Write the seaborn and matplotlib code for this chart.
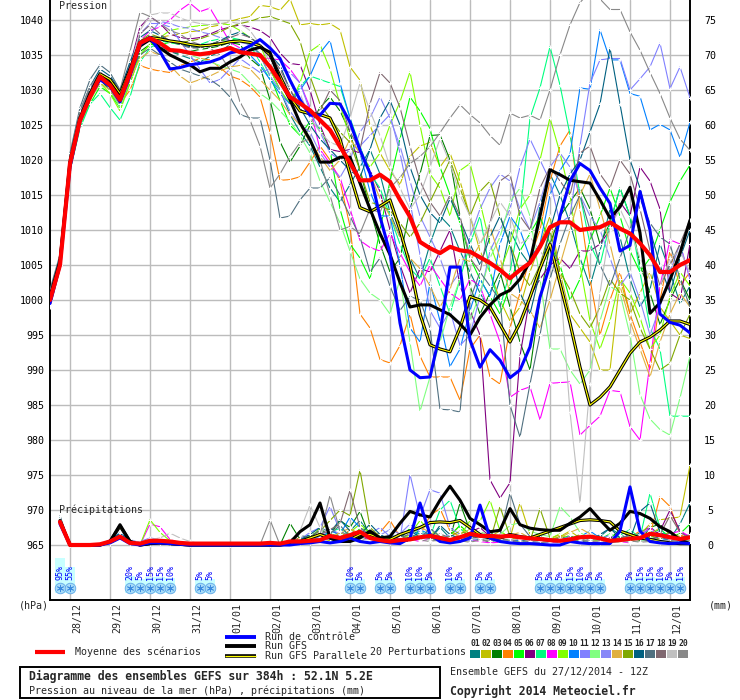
import numpy as np
import pandas as pd
import matplotlib
matplotlib.use("Agg")
import matplotlib.pyplot as plt
import matplotlib.transforms as mtransforms
from matplotlib.patches import Rectangle
import seaborn as sns

# ---------------- data ----------------
hours = list(range(0, 385, 6))          # 65 steps, 27/12 12Z -> +384h
precip_hours = hours[1:]
day_ticks = list(range(12, 373, 24))
day_labels = ["28/12", "29/12", "30/12", "31/12", "01/01", "02/01", "03/01", "04/01",
              "05/01", "06/01", "07/01", "08/01", "09/01", "10/01", "11/01", "12/01"]

mean_p = [1000, 1005, 1019.5, 1025.7, 1029, 1031.9, 1030.7, 1028.6, 1032.4, 1036.7, 1037.4, 1036.7, 1035.7,
          1035.6, 1035.3, 1035.1, 1035.3, 1035.6, 1036, 1035.4, 1035.2, 1035, 1033.3, 1031.2, 1029, 1028.1,
          1027.1, 1025.7, 1024.3, 1021.9, 1019.6, 1017.1, 1017.1, 1017.9, 1016.9, 1014.3, 1011.9, 1008.3, 1007.4,
          1006.7, 1007.6, 1007.1, 1006.9, 1006.1, 1005.3, 1004.3, 1003.1, 1004.3, 1005.3, 1007.6, 1010.4, 1011.1,
          1011.1, 1010, 1010.2, 1010.4, 1011.1, 1010.2, 1009.5, 1008.1, 1006.4, 1004, 1004, 1005, 1005.7]
control_p = [999.5, 1005, 1019, 1025.5, 1029, 1031.5, 1030.5, 1028.3, 1032, 1036.5, 1037.5, 1035.5, 1033,
             1033.2, 1033.6, 1033.8, 1034, 1034.5, 1035.3, 1035.6, 1036.3, 1037.2, 1036, 1034.5, 1031.4, 1028.6,
             1026.4, 1026.4, 1028.1, 1028, 1025.4, 1021.4, 1018.1, 1011.9, 1006.7, 996.7, 990, 988.9, 989,
             995.3, 1004.7, 1004.7, 994.3, 990.4, 992.9, 991.4, 988.9, 990, 993.3, 1000.4, 1005, 1012,
             1017, 1019.5, 1018.5, 1016, 1013.8, 1007, 1007.8, 1015.5, 1010, 998, 996.8, 996.4, 995.3]
gfs_p = [1000, 1005.5, 1019.5, 1025.8, 1029.2, 1032, 1031, 1029, 1032.6, 1036.3, 1037.2, 1036, 1035,
         1034.3, 1033.6, 1032.6, 1033.1, 1033.1, 1034, 1034.7, 1035.7, 1036.1, 1035.4, 1031.4, 1028.6, 1025.3,
         1022.9, 1019.7, 1019.7, 1020.4, 1020.4, 1016.7, 1013, 1009.5, 1006.5, 1002.5, 999, 999.3, 999.3,
         998.6, 997.9, 996.6, 995, 997.5, 999.3, 1000.7, 1001.4, 1003, 1005.5, 1012, 1018.6, 1017.9,
         1017.1, 1016.9, 1016.7, 1014.3, 1011.7, 1013.3, 1016.1, 1009.6, 998.1, 999.6, 1002.9, 1006.7, 1011.4]
gfs_par_p = [1000.5, 1005.5, 1019.8, 1026, 1029.5, 1032.3, 1031.5, 1029.5, 1033, 1036.8, 1037.5, 1037.3, 1037,
             1036.8, 1036.5, 1036.3, 1036.4, 1036.6, 1036.9, 1037, 1036.8, 1036.3, 1035, 1032, 1029, 1027,
             1026.6, 1026.5, 1026, 1023, 1018, 1013.2, 1012.6, 1013.4, 1014.3, 1010, 1005, 998, 993.6,
             993, 992.6, 996, 1000.5, 1000, 999, 996.5, 994, 996.7, 1000.4, 1004.5, 1008, 1002.4,
             996.7, 990.4, 985, 986.1, 987.6, 990, 992.4, 994, 994.7, 995.7, 997, 997, 996.5]

P01 = [1000.5, 1005.5, 1019.5, 1026, 1029.5, 1032, 1030.5, 1028, 1032.5, 1036.5, 1037.8, 1036.5, 1035.5,
       1035, 1034.5, 1034, 1034.8, 1035.5, 1036.5, 1037, 1036.5, 1035.2, 1033, 1030, 1026.5, 1024,
       1022, 1019, 1016, 1014, 1016.5, 1019, 1021.5, 1018, 1012.5, 1009, 1006, 1003, 1008,
       1012, 1010.5, 1007, 1004, 1001, 998.5, 1003, 1010, 1007, 1005, 1013.5, 1018, 1015,
       1011, 1006, 1002, 1007, 1013, 1009, 1003, 999, 1001.5, 1008, 1004, 999.5, 1002]
P02 = [1000, 1005, 1019, 1025.5, 1029, 1031.5, 1030.5, 1028.5, 1032, 1036, 1037.5, 1037.5, 1037.8,
       1038, 1038.3, 1038.5, 1039, 1039.3, 1039.8, 1040.2, 1040.5, 1042.1, 1041.9, 1041.4, 1043, 1039.3,
       1039.5, 1039.3, 1039.5, 1038.6, 1033.3, 1031.4, 1025, 1021, 1018.5, 1016.5, 1020.5, 1022, 1022.5,
       1019, 1021, 1017, 1012, 1007, 1004, 1000, 997, 999, 1004, 1008, 1012, 1004,
       998, 996, 994, 990, 990, 1003, 998, 1001, 1004, 999, 997, 995, 994.5]
P03 = [999.5, 1004.5, 1018.5, 1025, 1028.5, 1031.5, 1030, 1027.5, 1031.5, 1035.5, 1036.5, 1036, 1035.5,
       1035.2, 1035.5, 1035.8, 1036, 1036.3, 1036.8, 1036.5, 1034.5, 1033.3, 1028.6, 1022.6, 1019.7, 1022,
       1025, 1027.5, 1029, 1027, 1024, 1018.5, 1013, 1008, 1004, 1006, 1013, 1018, 1023.5,
       1023.6, 1020, 1012, 1002, 998, 1001, 1004, 999, 994, 990, 1000, 1008, 1012,
       1014, 1016, 1013, 1008, 1011, 1016, 1012, 1005, 1001, 996.5, 1000, 1003, 1000]
P04 = [999, 1004.5, 1018.5, 1025.5, 1029, 1031.5, 1030.5, 1028, 1030, 1033.5, 1033, 1032.7, 1032.5,
       1033.5, 1034, 1034.5, 1034.3, 1033.2, 1032, 1031.5, 1030.5, 1029, 1024, 1017.1, 1017.2, 1017.6,
       1019.7, 1022, 1020, 1017, 1010.5, 998, 996, 991.5, 991, 993.5, 998, 992, 989,
       989, 989, 985.7, 993, 995, 989, 988, 996, 1001, 1006, 1010, 1017, 1022,
       1024.3, 1013, 1003, 995, 1000, 1004, 998, 994, 990, 1000, 1007, 1002, 1004]
P05 = [1000, 1005, 1019, 1025, 1028, 1030.5, 1029.5, 1027.5, 1031, 1035, 1036.5, 1036.5, 1036.8,
       1036.5, 1036.2, 1036, 1036.5, 1037, 1037.3, 1037, 1036.5, 1035, 1032, 1028.5, 1025, 1023.5,
       1025.5, 1024.5, 1021.5, 1013, 1008, 1006, 1003, 1010, 1017, 1023, 1029, 1027, 1024.5,
       1019, 1015, 1011, 1006, 1003, 1000.5, 998, 1002, 1007, 1009.5, 1012, 1008, 1005,
       1000, 1003, 1008.5, 1012, 1016, 1012, 1007, 1004, 1006, 1010, 1014, 1017, 1019.3]
P06 = [1000.5, 1005.5, 1020, 1026.5, 1030, 1032.5, 1031.5, 1029, 1033.5, 1039, 1040.5, 1039.5, 1038,
       1037.5, 1037.3, 1037.5, 1038, 1038.6, 1039, 1039.3, 1039, 1038.5, 1037.5, 1035.3, 1033.8, 1033.6,
       1030, 1025, 1021.5, 1021.2, 1021.5, 1021, 1018.5, 1015.5, 1010, 1005, 1001, 1004.5, 1004,
       1007, 1010, 1002, 998.5, 995, 974.3, 971.7, 973.9, 992, 1000.5, 1003, 1005, 1006,
       1004.5, 1007, 1007, 1008, 1010, 1014, 1012, 1019, 1017, 1013, 1001, 1000, 1008]
P07 = [999.5, 1004.5, 1018.5, 1024.5, 1028, 1029.5, 1027.5, 1025.7, 1029, 1034, 1036, 1037, 1036.8,
       1036.5, 1036.3, 1036.5, 1037, 1037.3, 1037.5, 1037.2, 1036.5, 1034, 1031.5, 1030, 1028, 1030.5,
       1032, 1031.5, 1031, 1030.5, 1026, 1022, 1018, 1016, 1012, 1008, 1004.5, 1003, 1006,
       1002, 998, 1003, 1008, 1012, 1004, 999, 1004, 1012, 1026, 1030.3, 1036.2, 1030.7,
       1023.6, 1015, 1008, 1005, 1011, 1016, 1012, 1004, 996, 993, 983.4, 983.4, 983.4]
P08 = [1000, 1005, 1019.5, 1026, 1029.5, 1032, 1031, 1029, 1033, 1037, 1038.5, 1039, 1040,
       1041.4, 1042.4, 1041.2, 1041.7, 1039.3, 1036.8, 1036, 1035.5, 1034.6, 1034.5, 1034.3, 1033, 1031,
       1027.5, 1021.5, 1019.5, 1017.5, 1013, 1008.5, 1007.5, 1007, 1009.5, 1006.7, 1004, 1002, 1005,
       1003, 1001, 1000, 1003, 1002, 998, 994, 986.1, 987.1, 987.6, 982.9, 988.1, 988.2,
       988.3, 980.7, 982.1, 983.4, 987.1, 986.9, 981.9, 980, 991, 1002, 1008.6, 1008, 1003]
P09 = [1000, 1005, 1019, 1025.5, 1029, 1031, 1029.5, 1027, 1031, 1035, 1036.5, 1037.5, 1038.5,
       1038.8, 1039, 1039.2, 1039.3, 1039.5, 1039.3, 1038.5, 1037.5, 1036.5, 1033, 1030, 1028, 1031,
       1035.5, 1036.5, 1033, 1028, 1023, 1021, 1019, 1021, 1025, 1028.3, 1032.6, 1025, 1018,
       1016, 1012, 1018.5, 1019.5, 1014, 1008, 1004, 1008, 1013, 1015, 1020, 1026, 1021,
       1015, 1005, 997, 993, 997, 1003, 1001, 997.5, 993, 995, 1000.5, 1004, 1002]
P10 = [1000, 1005, 1019.5, 1026, 1029.5, 1032, 1031, 1028.5, 1032.5, 1036.5, 1037.5, 1036.3, 1035.5,
       1035.3, 1035.2, 1035, 1035.4, 1035.8, 1036, 1035.8, 1035, 1033.5, 1031.5, 1029.5, 1028, 1030,
       1032, 1035.3, 1037.1, 1031, 1026, 1021, 1015.5, 1012, 1012, 1005, 996, 994, 1002.5,
       997, 990.5, 993, 998.5, 1003, 1000.5, 1008, 1012, 1010, 1006, 1008, 1015, 1018.5,
       1020.8, 1030.3, 1030.1, 1038.6, 1034.3, 1034.3, 1029.5, 1029.1, 1024.3, 1025.1, 1024.3, 1020.4, 1025.4]
P11 = [1000.5, 1005.5, 1020, 1026.5, 1030, 1032.5, 1031.5, 1029.5, 1033.5, 1038, 1039.5, 1039.5, 1039,
       1037, 1035, 1033, 1031, 1031.5, 1033, 1034.5, 1033.5, 1032.5, 1033, 1033, 1032.5, 1031,
       1027, 1024, 1021, 1020, 1021.5, 1022, 1023.5, 1025, 1026.5, 1021, 1014, 1006.5, 998.5,
       996, 998.5, 993.5, 995, 1000.5, 1007, 1010, 1013, 1019, 1023, 1020, 1017, 1011,
       1012, 1022, 1031, 1034.3, 1034.5, 1034.5, 1030, 1031.6, 1033.3, 1036.7, 1030.2, 1033.3, 1028.9]
P12 = [999.5, 1004.5, 1018.5, 1025, 1028.5, 1031, 1030, 1027.5, 1031.5, 1036, 1037.5, 1037, 1036,
       1035.5, 1035, 1034.5, 1034, 1033.5, 1033, 1032.5, 1031, 1029.5, 1028.5, 1027, 1025.5, 1023.5,
       1021, 1017, 1014, 1011, 1007, 1003, 1001, 1000, 998, 1003, 994, 984.1, 989,
       994, 999, 1003, 997, 1001, 1006, 1009, 1014, 1016, 1012, 1003, 993, 993,
       990, 988, 990, 997, 1002, 1001, 995, 986.5, 983, 981.5, 980.7, 986, 992]
P13 = [1000, 1005, 1019, 1025.5, 1029, 1031.5, 1030.5, 1028, 1032, 1036, 1038, 1039.8, 1039.5,
       1039, 1038.8, 1038.3, 1038, 1037.5, 1037, 1036.8, 1036.5, 1035, 1032, 1030, 1027, 1025,
       1024, 1021, 1019, 1017.5, 1020, 1024, 1026, 1029, 1026, 1022, 1017, 1012, 1009,
       1006, 1002, 1004, 1009, 1013, 1016, 1018, 1017, 1013, 1010, 1014, 1019, 1021,
       1019, 1015, 1012, 1010, 1006, 1002, 1004, 1000, 995, 999, 1004, 1008, 1003]
P14 = [999.5, 1004.5, 1018.5, 1025, 1028.5, 1031, 1030, 1028, 1031.5, 1034.5, 1035.5, 1035, 1033.5,
       1032, 1031, 1031.5, 1032, 1032.7, 1033.3, 1033.5, 1033, 1031.5, 1030, 1028.5, 1026.5, 1025,
       1022.5, 1020.5, 1018.5, 1020, 1023, 1021, 1018, 1014.5, 1012, 1009, 1006, 1004.5, 1002,
       999, 1001.5, 1006, 1005.5, 1008, 1010.5, 1006, 1001, 1000, 998.5, 996, 1000, 1005,
       1010, 1015, 1018, 1013, 1008, 1002, 997, 993, 989, 994, 998, 1001, 999]
P15 = [1000.5, 1005.5, 1020, 1026, 1029.5, 1032, 1031, 1029, 1033, 1037, 1038, 1037.5, 1037,
       1036.8, 1037, 1037.3, 1037.8, 1038.3, 1039, 1039.5, 1039.8, 1040.3, 1040.5, 1040, 1039.5, 1037,
       1032, 1028, 1026, 1024, 1022.5, 1018.5, 1014, 1013.5, 1012.8, 1011, 1009, 1011, 1014,
       1017, 1020, 1016, 1012, 1015.5, 1017, 1012, 1008, 1004, 1002, 1005, 1010, 1004,
       1001.5, 998, 996, 999, 1003, 1001, 1000, 996, 993, 990, 991, 995, 998]
P16 = [1001, 1006, 1020.5, 1027, 1030.5, 1033, 1032, 1030, 1034, 1037.5, 1038.5, 1037.8, 1037,
       1036.5, 1036.2, 1036, 1036.5, 1037, 1037.8, 1038.3, 1037.5, 1036.5, 1035, 1033.5, 1030, 1027.5,
       1025, 1023, 1021.5, 1020, 1018.5, 1017.5, 1021.5, 1026, 1028.5, 1025, 1019, 1015, 1012.5,
       1011, 1014.5, 1011.5, 1008, 1005, 1009, 1012, 1008, 1001, 998, 1004, 1010, 1015,
       1018, 1020, 1024, 1028, 1036, 1028, 1020, 1016, 1010, 1005, 1001, 1006, 1010]
P17 = [1001.5, 1006.5, 1021, 1027.5, 1031.5, 1033.6, 1032.5, 1030, 1032.5, 1035, 1036, 1035, 1034,
       1033, 1032.5, 1032, 1031.5, 1030.5, 1029, 1026.5, 1026, 1026, 1020, 1011.7, 1012, 1014.3,
       1016, 1016, 1017.5, 1015, 1012, 1009, 1004, 1006, 1002, 998.5, 1000.5, 1000, 996,
       984.4, 984.3, 984, 1000, 1004, 1002, 1000, 985, 980.4, 988, 995, 1003, 1008,
       1012, 1015, 1010, 1005, 1002, 1006, 1010, 1014.5, 1011, 1009, 1008, 1003, 999]
P18 = [1000.5, 1005.5, 1020, 1026.5, 1030, 1032, 1031, 1029.5, 1033, 1038, 1039.3, 1038, 1037,
       1036.5, 1036, 1036, 1036.5, 1037, 1037.5, 1038, 1037.5, 1036.5, 1035, 1033, 1030, 1028,
       1026.5, 1027, 1030, 1028.5, 1024, 1021.5, 1028, 1032.5, 1031, 1027.5, 1022, 1017, 1014,
       1012, 1015, 1012, 1006, 1004, 1011, 1017, 1018, 1012, 1010, 1016, 1019, 1017,
       1015, 1021, 1022, 1018, 1016, 1020, 1018, 1013, 1007, 1002, 1005, 1008, 1011.5]
P19 = [1000, 1005, 1019.5, 1026, 1029.5, 1032, 1031, 1029, 1033, 1038.5, 1040.7, 1041, 1041,
       1040.3, 1039.8, 1039.5, 1039.3, 1039.5, 1039.7, 1039.5, 1038.5, 1036.5, 1034, 1031.5, 1030.5, 1029.5,
       1026, 1024, 1022.5, 1022, 1026, 1031, 1027, 1023.5, 1019, 1016, 1013, 1015, 1019,
       1023, 1019.5, 1015, 1012, 1008, 1011, 1014, 1012, 1008, 1009, 1007, 1005, 1003,
       984, 971, 988, 1001, 1010.5, 1013, 1010, 1006, 1003, 1002, 1006, 1007, 1004]
P20 = [1001, 1006, 1020.5, 1027, 1030.5, 1032.5, 1031.5, 1030, 1035.5, 1041.1, 1040.5, 1039.5, 1038.5,
       1038, 1037, 1036.5, 1036, 1035, 1032.9, 1028.3, 1025.7, 1022, 1016, 1018, 1020.5, 1022.5,
       1023, 1020, 1015, 1010, 1010.5, 1009.5, 1013, 1012.5, 1016, 1017.5, 1019.5, 1020.5, 1021.9,
       1023.9, 1026, 1027.9, 1026.5, 1025.3, 1023.5, 1022.1, 1026.7, 1026, 1026.4, 1025.7, 1030, 1035,
       1039.3, 1042.5, 1044, 1043, 1041.5, 1041.5, 1038.3, 1035.7, 1032.5, 1029.5, 1026, 1023, 1021.4]

mean_r = [3.3, 0, 0, 0, 0.1, 0.5, 1.2, 0.3, 0.2, 0.6, 0.6, 0.5, 0.3, 0.2, 0.2, 0.2,
          0.2, 0.2, 0.2, 0.2, 0.2, 0.3, 0.2, 0.5, 0.5, 0.6, 0.7, 1.3, 1.0, 1.4, 1.9, 1.0,
          0.7, 0.5, 0.7, 0.8, 1.1, 1.3, 1.0, 0.7, 1.1, 1.6, 1.3, 1.3, 1.2, 1.3, 1.1, 0.95,
          0.85, 0.7, 0.6, 0.8, 1.1, 1.2, 0.95, 0.6, 0.7, 0.9, 1.0, 1.6, 1.4, 1.1, 0.85, 1.1]
control_r = [3, 0, 0, 0, 0, 0.3, 1, 0.2, 0, 0.3, 0.3, 0.2, 0.1, 0, 0, 0,
             0, 0, 0, 0, 0, 0, 0, 0, 0.2, 0.3, 0.5, 0.3, 0.5, 1, 0.5, 0.3,
             0.5, 0.3, 0.2, 1, 6, 1.5, 0.5, 0.3, 0.5, 1, 5.7, 1, 0.5, 0.3, 0.2, 0.2,
             0.1, 0, 0, 0.5, 0.3, 0.2, 0.2, 0.2, 2, 8.3, 2, 0.5, 0.3, 0.2, 0.3, 0.2]
gfs_r = [3.5, 0, 0, 0, 0, 0.5, 2.9, 0.5, 0, 0.2, 0.3, 0.2, 0.1, 0, 0, 0,
         0, 0, 0, 0, 0, 0, 0, 0.3, 1.9, 2.9, 6, 1, 0.5, 0.5, 1, 2,
         1, 1.2, 3.1, 4.8, 4.3, 4, 6.4, 8.4, 6.4, 3.8, 2.9, 1.9, 2.1, 5.2, 2.9, 2.4,
         2.2, 2.1, 2.1, 3.1, 4, 5.2, 3.6, 2.1, 3.1, 4.8, 4.5, 3.8, 2.6, 1.9, 0.7, 0.2]
gfs_par_r = [3.3, 0, 0, 0, 0, 0.5, 2.7, 0.5, 0, 0.2, 0.3, 0.2, 0.1, 0, 0, 0,
             0, 0, 0, 0, 0, 0, 0, 0.2, 0.5, 1, 1.5, 1, 0.5, 0.8, 1.5, 1.5,
             1, 0.8, 1.5, 2, 2.5, 3.2, 3.3, 3.2, 3.5, 2.5, 1.5, 1, 1, 1.5, 1.2, 1,
             1.5, 2, 2.5, 3, 3.5, 3.6, 3.5, 3.3, 2, 1.5, 1, 0.8, 0.5, 0.3, 0.2, 0.2]

R01 = [4.0, 0, 0, 0, 0, 0.4, 1.8, 0.4, 0, 0.2, 0.3, 0.2, 0.1, 0, 0, 0,
       0, 0, 0, 0, 0, 0, 0.2, 0.5, 1.0, 0.8, 1.5, 2.5, 1.2, 2.0, 3.5, 1.5,
       0.8, 0.5, 1.2, 2.2, 1.5, 0.8, 2.5, 1.0, 0.6, 1.8, 0.9, 0.4, 0.8, 1.5, 0.7, 0.4,
       0.3, 0.6, 1.2, 0.8, 0.4, 0.6, 1.2, 2.4, 1.5, 0.8, 1.8, 2.6, 1.4, 0.9, 3.0, 6.0]
R02 = [3.0, 0, 0, 0, 0, 0.2, 1.2, 0.2, 0, 0.4, 0.6, 0.4, 0.2, 0, 0, 0,
       0, 0, 0, 0, 0, 0, 0, 0.3, 0.5, 0.3, 1.0, 0.6, 1.8, 1.0, 0.5, 1.2,
       0.6, 1.0, 0.4, 0.6, 1.2, 1.6, 0.5, 1.2, 2.8, 1.0, 0.6, 1.2, 2.0, 1.0, 6.0, 1.5,
       0.5, 0.8, 1.2, 2.0, 1.0, 0.5, 0.3, 1.0, 0.6, 1.2, 1.5, 3.0, 3.6, 3.8, 4.0, 11.4]
R03 = [3.8, 0, 0, 0, 0, 0.3, 1.6, 0.3, 0, 0.3, 0.4, 0.3, 0.1, 0, 0, 0,
       0, 0, 0, 0, 0, 0, 0, 3.1, 0.8, 1.2, 2.2, 1.5, 3.5, 2.5, 4.8, 1.0,
       0.5, 0.7, 1.5, 0.9, 1.2, 1.8, 0.8, 1.0, 6.0, 2.0, 0.8, 0.5, 1.0, 0.6, 0.5, 0.8,
       1.2, 0.6, 0.4, 0.8, 1.5, 0.7, 0.4, 0.9, 2.2, 1.0, 0.6, 2.5, 3.0, 1.5, 0.5, 0.6]
R04 = [3.2, 0, 0, 0, 0, 0.4, 1.3, 0.3, 0, 0.2, 0.3, 0.2, 0.1, 0, 0, 0,
       0, 0, 0, 0.3, 0, 0, 0, 0.5, 1.0, 0.4, 1.8, 1.2, 0.8, 2.2, 1.5, 0.9,
       1.8, 3.5, 1.2, 0.8, 1.4, 4.2, 5.2, 2.0, 1.2, 0.6, 1.0, 1.6, 0.8, 0.5, 1.2, 0.7,
       0.4, 0.9, 1.5, 0.6, 0.3, 0.8, 1.2, 0.5, 0.7, 1.1, 2.0, 1.4, 6.9, 5.5, 1.5, 0.8]
R05 = [3.6, 0, 0, 0, 0, 0.2, 1.0, 0.2, 0, 0.2, 0.5, 0.4, 0.2, 0.1, 0, 0,
       0, 0, 0, 0, 0, 0.3, 0, 0.2, 0.6, 1.0, 0.8, 1.6, 1.2, 0.7, 2.4, 2.0,
       0.7, 0.4, 1.0, 2.4, 1.8, 0.6, 0.9, 1.4, 2.8, 1.5, 0.6, 1.2, 0.9, 0.4, 0.6, 0.5,
       0.3, 0.5, 0.8, 1.4, 0.6, 0.4, 0.8, 1.6, 0.9, 0.5, 1.0, 1.8, 2.2, 1.2, 1.6, 3.0]
R06 = [3.3, 0, 0, 0, 0, 0.3, 1.4, 0.3, 0, 0.2, 0.3, 0.3, 0.2, 0, 0, 0,
       0, 0, 0, 0, 0, 0, 0, 0.3, 0.4, 0.6, 1.0, 0.8, 1.4, 0.8, 1.2, 0.8,
       0.5, 0.8, 0.4, 0.6, 0.9, 1.4, 0.8, 0.5, 1.0, 1.8, 2.5, 1.2, 0.8, 0.6, 1.0, 0.8,
       0.6, 0.4, 0.8, 1.2, 0.6, 0.3, 0.5, 1.0, 0.8, 1.5, 0.9, 1.2, 2.0, 5.0, 2.0, 1.0]
R07 = [3.4, 0, 0, 0, 0, 0.4, 1.5, 0.4, 0, 0.3, 0.6, 0.6, 0.3, 0.1, 0, 0,
       0, 0, 0, 0, 0, 0, 0, 0.2, 0.6, 1.2, 0.9, 1.8, 2.4, 1.4, 0.8, 1.6,
       0.9, 0.6, 1.4, 0.8, 2.0, 1.2, 5.0, 6.4, 2.4, 1.0, 0.7, 1.2, 0.6, 0.8, 0.5, 1.0,
       0.8, 0.5, 0.4, 1.0, 0.6, 1.2, 0.8, 0.5, 1.4, 2.2, 1.0, 7.4, 2.4, 0.8, 0.5, 1.4]
R08 = [3.0, 0, 0, 0, 0, 0.3, 1.2, 0.3, 0, 3.0, 2.6, 0.8, 0.3, 0.1, 0, 0,
       0, 0, 0, 0, 0, 0, 0, 0.2, 0.4, 0.3, 0.8, 1.0, 0.6, 0.9, 1.5, 0.7,
       0.5, 0.3, 0.6, 0.8, 0.5, 0.9, 1.2, 0.6, 0.4, 0.8, 0.5, 0.3, 0.4, 0.6, 0.9, 0.5,
       0.4, 0.3, 0.5, 0.8, 1.4, 0.6, 0.4, 0.7, 0.5, 0.3, 1.2, 2.6, 1.0, 1.6, 2.0, 1.2]
R09 = [3.5, 0, 0, 0, 0, 0.3, 1.6, 0.4, 0, 3.6, 1.8, 0.6, 0.2, 0.1, 0, 0,
       0, 0, 0, 0, 0, 0, 0, 0.3, 0.5, 0.8, 2.5, 1.2, 0.6, 1.8, 3.0, 1.6,
       1.2, 0.8, 0.6, 1.5, 3.5, 2.0, 1.4, 0.8, 1.2, 3.5, 3.4, 6.4, 2.0, 1.0, 0.8, 0.6,
       0.5, 0.9, 1.6, 0.8, 0.6, 0.5, 1.0, 0.7, 0.4, 0.8, 1.5, 1.0, 0.6, 0.8, 1.2, 0.9]
R10 = [3.7, 0, 0, 0, 0, 0.5, 1.8, 0.5, 0, 0.2, 0.4, 0.3, 0.2, 0.1, 0, 0,
       0, 0, 0, 0, 0, 0, 0, 0.5, 0.8, 1.5, 1.0, 2.0, 1.5, 4.0, 2.5, 1.2,
       0.8, 1.4, 1.0, 0.6, 2.2, 1.5, 1.0, 0.8, 1.4, 0.7, 0.9, 1.8, 0.9, 0.5, 0.7, 0.4,
       0.3, 0.5, 0.8, 0.6, 1.2, 2.0, 1.0, 0.6, 0.8, 1.5, 0.8, 0.5, 0.6, 0.9, 0.5, 0.7]
R11 = [3.3, 0, 0, 0, 0, 0.8, 1.4, 0.5, 0.5, 1.0, 0.8, 0.5, 0.4, 0.2, 0.1, 0,
       0, 0, 0, 0, 0, 0, 0, 0.4, 0.8, 1.8, 2.5, 5.5, 2.0, 1.2, 1.0, 1.6,
       2.5, 1.2, 0.8, 10.1, 4.0, 7.9, 7.4, 2.5, 1.5, 0.8, 1.2, 0.6, 0.9, 1.4, 0.7, 0.5,
       0.4, 0.6, 0.8, 1.2, 0.7, 0.5, 0.9, 1.4, 0.8, 0.6, 1.6, 2.2, 1.0, 0.8, 1.2, 0.6]
R12 = [3.0, 0, 0, 0, 0, 0.2, 1.0, 0.2, 0, 0.6, 0.8, 0.4, 0.2, 0, 0, 0,
       0, 0, 0, 0, 0, 0, 0, 0.2, 0.3, 0.6, 0.9, 1.4, 0.8, 1.0, 1.8, 0.9,
       0.5, 0.8, 1.2, 0.6, 0.9, 1.5, 0.8, 0.6, 1.0, 0.7, 2.0, 1.2, 1.5, 2.8, 3.2, 2.0,
       1.5, 1.2, 5.5, 4.0, 1.8, 0.9, 0.6, 0.8, 1.2, 0.7, 0.5, 0.9, 1.4, 0.8, 0.6, 0.5]
R13 = [3.4, 0, 0, 0, 0, 0.6, 1.3, 0.8, 0.3, 0.5, 0.6, 0.4, 0.3, 0.2, 0, 0,
       0, 0, 0, 0, 0, 0, 0, 0.3, 0.5, 0.8, 1.2, 2.4, 1.5, 0.9, 1.4, 2.0,
       1.4, 2.2, 1.6, 3.0, 1.8, 1.2, 0.9, 1.5, 0.8, 0.6, 1.0, 0.8, 0.5, 0.7, 0.9, 0.6,
       0.5, 0.8, 0.6, 0.9, 1.4, 1.0, 0.6, 0.5, 0.8, 1.2, 0.9, 0.7, 1.1, 0.8, 0.6, 0.5]
R14 = [3.1, 0, 0, 0, 0, 0.3, 1.1, 0.2, 0, 0.3, 0.4, 0.3, 0.1, 0, 0, 0,
       0, 0, 0, 0, 0, 0, 0, 0.4, 0.6, 0.9, 1.4, 1.0, 1.8, 2.4, 1.5, 1.2,
       0.9, 0.6, 1.0, 1.5, 2.6, 1.8, 1.2, 0.8, 1.6, 2.2, 1.0, 0.6, 0.9, 1.4, 1.8, 1.0,
       0.8, 0.6, 1.0, 1.8, 2.4, 1.6, 1.0, 0.6, 0.9, 1.2, 0.8, 1.5, 2.5, 1.8, 1.2, 1.0]
R15 = [3.6, 0, 0, 0, 0, 0.4, 1.5, 0.3, 0, 0.4, 0.6, 0.4, 0.2, 0.1, 0, 0,
       0, 0, 0, 0, 0, 0, 0, 0.3, 0.8, 1.2, 2.0, 3.5, 5.0, 4.2, 10.7, 2.5,
       1.2, 0.8, 0.6, 1.0, 1.5, 0.9, 0.7, 1.2, 2.0, 1.4, 0.8, 0.6, 5.5, 1.2, 0.9, 0.5,
       5.2, 1.0, 0.6, 0.9, 1.5, 0.8, 0.5, 0.7, 1.0, 0.6, 0.9, 1.4, 0.8, 2.0, 1.0, 0.6]
R16 = [3.9, 0, 0, 0, 0, 0.5, 1.7, 0.4, 0, 0.3, 0.4, 0.3, 0.2, 0.1, 0, 0,
       0, 0, 0, 0, 0, 0, 0, 0.4, 0.7, 1.5, 2.5, 1.8, 3.6, 2.0, 1.4, 3.0,
       1.5, 0.8, 1.2, 2.0, 1.2, 0.8, 2.8, 1.5, 0.9, 1.4, 0.8, 0.6, 1.0, 1.6, 0.8, 0.5,
       0.6, 0.9, 0.5, 0.8, 1.2, 0.7, 1.5, 2.4, 1.0, 0.8, 4.8, 6.0, 1.8, 1.2, 0.8, 1.0]
R17 = [4.2, 0, 0, 0, 0, 0.4, 1.4, 0.3, 0, 0.2, 0.3, 0.2, 0.1, 0, 0, 0,
       0, 0, 0, 0, 0, 0, 0, 0.8, 1.4, 1.0, 2.2, 1.6, 2.8, 1.2, 1.8, 1.0,
       0.8, 0.5, 1.0, 1.6, 0.9, 2.4, 1.2, 0.8, 1.0, 1.5, 1.2, 0.8, 1.4, 7.4, 3.0, 1.2,
       0.8, 0.6, 1.0, 0.7, 0.5, 0.9, 1.2, 0.8, 0.6, 1.0, 1.4, 0.8, 1.2, 0.6, 1.0, 1.5]
R18 = [3.5, 0, 0, 0, 0, 0.3, 1.3, 0.3, 0, 0.3, 0.4, 0.3, 0.2, 0, 0, 0,
       0, 0, 0, 0, 0, 0, 0, 0.3, 0.6, 1.0, 1.5, 2.2, 3.0, 7.8, 2.5, 1.4,
       1.0, 0.7, 1.2, 0.8, 1.4, 0.9, 1.6, 1.0, 0.7, 1.2, 0.8, 0.5, 0.9, 0.6, 0.8, 0.6,
       0.5, 0.8, 0.6, 1.0, 0.7, 0.9, 1.2, 0.8, 1.0, 1.4, 1.0, 0.6, 1.5, 4.2, 1.8, 0.9]
R19 = [2.8, 0, 0, 0, 0, 0.5, 1.2, 0.6, 0.4, 0.8, 1.0, 1.7, 1.0, 0.5, 0.2, 0,
       0, 0, 0, 0, 0, 0, 0.2, 0.6, 2.0, 5.7, 2.5, 1.6, 1.0, 1.4, 0.9, 0.7,
       0.6, 0.9, 0.5, 0.8, 1.2, 0.7, 0.5, 0.9, 0.6, 0.8, 1.0, 0.6, 0.5, 0.7, 0.9, 0.6,
       0.5, 0.4, 0.6, 0.8, 1.0, 0.6, 0.5, 0.7, 0.6, 0.4, 0.8, 0.6, 0.5, 0.7, 0.5, 0.6]
R20 = [3.0, 0, 0, 0, 0, 0.4, 1.0, 0.3, 0, 0.2, 0.3, 0.2, 0.1, 0, 0, 0,
       0, 0, 0, 0, 0, 3.6, 0, 0.2, 0.5, 0.8, 1.4, 7.1, 2.0, 1.2, 1.6, 0.8,
       0.5, 0.8, 0.6, 1.0, 0.7, 0.5, 0.8, 1.2, 0.6, 0.4, 0.7, 0.5, 0.8, 0.6, 0.4, 0.5,
       0.3, 0.5, 0.4, 0.6, 0.8, 0.5, 0.4, 0.3, 0.5, 0.6, 0.4, 0.5, 0.3, 0.6, 0.8, 0.5]

member_names = ["%02d" % k for k in range(1, 21)]
member_colors = ["#008080", "#c0c000", "#008000", "#ff8000", "#00ff00", "#800080", "#00ff80",
                 "#ff00ff", "#80ff00", "#0080ff", "#8080ff", "#80ff80", "#8888f8", "#e0b040",
                 "#80a800", "#006080", "#507080", "#806870", "#c0c0c0", "#888888"]
pressure_members = [P01, P02, P03, P04, P05, P06, P07, P08, P09, P10,
                    P11, P12, P13, P14, P15, P16, P17, P18, P19, P20]
precip_members = [R01, R02, R03, R04, R05, R06, R07, R08, R09, R10,
                  R11, R12, R13, R14, R15, R16, R17, R18, R19, R20]

snow_hours = [6, 12, 48, 54, 60, 66, 72, 90, 96, 180, 186, 198, 204, 216, 222, 228, 240, 246,
              258, 264, 294, 300, 306, 312, 318, 324, 330, 348, 354, 360, 366, 372, 378]
snow_probs = [95, 55, 20, 5, 15, 15, 10, 5, 5, 10, 5, 5, 5, 10, 10, 5, 10, 5,
              5, 5, 5, 5, 5, 15, 10, 5, 5, 5, 15, 15, 10, 5, 15]

# ---------------- style ----------------
sns.set_theme(style="white")
plt.rcParams['font.family'] = ['DejaVu Sans Mono', 'DejaVu Sans']
FS = 7.2

W, H = 740, 700
fig = plt.figure(figsize=(W / 100, H / 100), dpi=100)
fig.patch.set_facecolor("white")

Y0 = 1040 - 580 / 7.0       # bottom of frame (y=600px)
Y1 = 1040 + 20 / 7.0        # top of image
ax = fig.add_axes([50 / W, 100 / H, 640 / W, 600 / H])
ax.set_facecolor("white")
ax.set_xlim(0, 384)
ax.set_ylim(Y0, Y1)

ax.set_yticks(list(range(965, 1041, 5)))
ax.set_xticks(day_ticks)
ax.set_xticklabels([])
ax.grid(True, color="#bcbcbc", lw=1.0)
ax.set_axisbelow(True)
ax.tick_params(axis="y", length=0, pad=4.3, labelsize=FS, labelcolor="black")
ax.tick_params(axis="x", length=0)
for s in ["left", "bottom", "right"]:
    ax.spines[s].set_visible(True)
    ax.spines[s].set_color("black")
    ax.spines[s].set_linewidth(1.4)
ax.spines["top"].set_visible(False)

ax2 = ax.twinx()
ax2.set_ylim(Y0 - 965, Y1 - 965)
ax2.set_yticks(list(range(0, 76, 5)))
ax2.set_yticklabels([str(v) for v in range(0, 76, 5)], ha="center")
ax2.tick_params(axis="y", length=0, pad=14.5, labelsize=FS, labelcolor="black")
ax2.grid(False)
for s in ax2.spines.values():
    s.set_visible(False)

# ---- perturbations (pressure) ----
pal = dict(zip(member_names, member_colors))
rows = []
for name, vals in zip(member_names, pressure_members):
    for h, v in zip(hours, vals):
        rows.append((name, h, v))
df_p = pd.DataFrame(rows, columns=["member", "h", "v"])
sns.lineplot(data=df_p, x="h", y="v", hue="member", palette=pal, units="member",
             estimator=None, sort=False, linewidth=0.8, marker="+", markersize=3.2,
             markeredgewidth=0.7, legend=False, ax=ax, zorder=3)

rows = []
for name, vals in zip(member_names, precip_members):
    for h, v in zip(precip_hours, vals):
        rows.append((name, h, v))
df_r = pd.DataFrame(rows, columns=["member", "h", "v"])
sns.lineplot(data=df_r, x="h", y="v", hue="member", palette=pal, units="member",
             estimator=None, sort=False, linewidth=0.8, marker="+", markersize=3.2,
             markeredgewidth=0.7, legend=False, ax=ax2, zorder=3)

# ---- main runs ----
def main_runs(axx, xs, par, gfs, ctl, mean):
    sns.lineplot(x=xs, y=par, color="black", linewidth=2.3, ax=axx, zorder=4, sort=False)
    sns.lineplot(x=xs, y=par, color="#ffff00", linewidth=0.8, ax=axx, zorder=4.1, sort=False)
    sns.lineplot(x=xs, y=gfs, color="black", linewidth=2.2, ax=axx, zorder=4.2, sort=False)
    sns.lineplot(x=xs, y=ctl, color="#0000ff", linewidth=2.2, ax=axx, zorder=4.3, sort=False)
    sns.lineplot(x=xs, y=mean, color="#ff0000", linewidth=3.0, ax=axx, zorder=4.5, sort=False)

main_runs(ax, hours, gfs_par_p, gfs_p, control_p, mean_p)
main_runs(ax2, precip_hours, gfs_par_r, gfs_r, control_r, mean_r)
ax.set_xlabel("")
ax.set_ylabel("")
ax2.set_xlabel("")
ax2.set_ylabel("")
ax.set_xlim(0, 384)
ax.set_ylim(Y0, Y1)
ax2.set_ylim(Y0 - 965, Y1 - 965)

# ---- snow probability strip ----
base = 1040 - 573 / 7.0
heights = [(12.8 + 0.233 * p) / 7.0 for p in snow_probs]
ax.bar(snow_hours, heights, width=6, bottom=base, color="#c8ffff", linewidth=0, zorder=2)
icon_y = 1040 - 568 / 7.0
ax.scatter(snow_hours, [icon_y] * len(snow_hours), s=58, marker="o", color="#a8dcf8",
           edgecolor="#60a8e8", linewidth=0.6, zorder=5)
ax.scatter(snow_hours, [icon_y] * len(snow_hours), s=22, marker=(6, 2, 0), color="#3c8ce0",
           linewidth=0.6, zorder=6)
for h, p in zip(snow_hours, snow_probs):
    ax.text(h, 960.0, "%d%%" % p, rotation=90, ha="center", va="bottom", color="#0000ff",
            fontsize=6.0, zorder=6)

# ---- day labels ----
tr = mtransforms.blended_transform_factory(ax.transData, ax.transAxes) + \
    mtransforms.ScaledTranslation(7 / 100, 0, fig.dpi_scale_trans)
for h, lab in zip(day_ticks, day_labels):
    ax.text(h, -0.005, lab, rotation=90, ha="center", va="top", fontsize=FS, transform=tr,
            clip_on=False)

# ---------------- overlay texts / legend ----------------
lax = fig.add_axes([0, 0, 1, 1])
lax.set_xlim(0, W)
lax.set_ylim(H, 0)
lax.axis("off")
lax.patch.set_alpha(0)

lax.text(59, 6, "Pression", fontsize=FS, va="center", ha="left")
lax.text(59, 510, "Précipitations", fontsize=FS, va="center", ha="left")
lax.text(19, 606, "(hPa)", fontsize=FS, va="center", ha="left")
lax.text(709, 606, "(mm)", fontsize=FS, va="center", ha="left")

lax.plot([35, 65], [652, 652], color="#ff0000", lw=3.0, solid_capstyle="butt")
lax.text(75, 652, "Moyenne des scénarios", fontsize=FS, va="center", ha="left")
lax.plot([225, 256], [637, 637], color="#0000ff", lw=2.8, solid_capstyle="butt")
lax.text(265, 637, "Run de contrôle", fontsize=FS, va="center", ha="left")
lax.plot([225, 256], [646, 646], color="black", lw=2.8, solid_capstyle="butt")
lax.text(265, 646, "Run GFS", fontsize=FS, va="center", ha="left")
lax.plot([225, 256], [656, 656], color="black", lw=2.6, solid_capstyle="butt")
lax.plot([225, 256], [656, 656], color="#ffff00", lw=0.9, solid_capstyle="butt")
lax.text(265, 656, "Run GFS Parallele", fontsize=FS, va="center", ha="left")
lax.text(370, 652, "20 Perturbations", fontsize=FS, va="center", ha="left")

for k, (name, col) in enumerate(zip(member_names, member_colors)):
    x0 = 470 + k * 10.95
    lax.add_patch(Rectangle((x0, 650), 10, 7.5, facecolor=col, edgecolor="none"))
    lax.text(x0 + 5, 643, name, fontsize=5.8, ha="center", va="center", fontweight="bold")

lax.add_patch(Rectangle((20, 667), 420, 31, fill=False, edgecolor="black", lw=1.4))
lax.text(29, 676, "Diagramme des ensembles GEFS sur 384h : 52.1N 5.2E", fontsize=8.3,
         fontweight="bold", va="center", ha="left")
lax.text(29, 691, "Pression au niveau de la mer (hPa) , précipitations (mm)", fontsize=FS,
         va="center", ha="left")
lax.text(450, 672, "Ensemble GEFS du 27/12/2014 - 12Z", fontsize=FS, va="center", ha="left")
lax.text(450, 691, "Copyright 2014 Meteociel.fr", fontsize=8.3, fontweight="bold",
         va="center", ha="left")

fig.savefig("out.png", dpi=100, facecolor="white")
